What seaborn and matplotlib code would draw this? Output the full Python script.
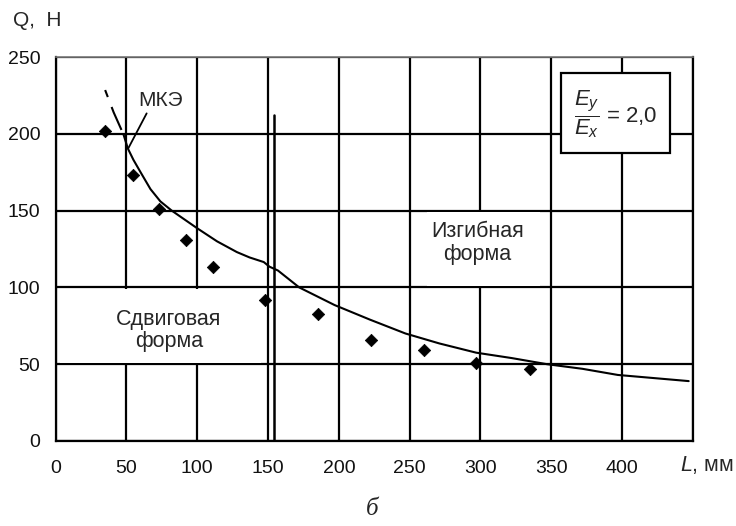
import matplotlib
matplotlib.use("Agg")
import matplotlib.pyplot as plt
from matplotlib.patches import Rectangle
import seaborn as sns

# experimental points
exp_L = [35, 55, 73, 92, 111, 148, 185, 223, 260, 297, 335]
exp_Q = [202, 173, 151, 131, 113, 92, 83, 66, 59, 51, 47]

# FEM curve (МКЭ): dashed start, then solid
fem_dash_L = [35, 41, 48]
fem_dash_Q = [228.5, 214, 199.5]
fem_L = [48, 51, 55, 60, 67, 74, 82, 100, 114, 128, 137, 147, 151, 157, 172, 197,
         222, 247, 271, 297, 322, 347, 372, 397, 422, 447]
fem_Q = [199.5, 190.5, 183, 175, 164, 156, 150, 138.5, 130, 123, 119.5, 116.5, 113.5, 111,
         100, 88.5, 79, 70, 63.5, 57.5, 54, 50, 47, 43, 41, 39]

# boundary between shear and bending forms
bound_L = [154, 154]
bound_Q = [0, 212]

x_ticks = [0, 50, 100, 150, 200, 250, 300, 350, 400]
y_ticks = [0, 50, 100, 150, 200, 250]

sns.set_theme(style="white")
plt.rcParams['font.family'] = ['Liberation Sans', 'DejaVu Sans']
plt.rcParams['mathtext.fontset'] = 'custom'
plt.rcParams['mathtext.rm'] = 'Liberation Sans'
plt.rcParams['mathtext.it'] = 'Liberation Sans:italic'

fig = plt.figure(figsize=(7.36, 5.26), dpi=100)
ax = fig.add_axes([0.0755, 0.1616, 0.866, 0.73])

ax.set_xlim(0, 450)
ax.set_ylim(0, 250)
ax.set_xticks(x_ticks + [450])
ax.set_yticks(y_ticks)
ax.set_xticklabels([str(v) for v in x_ticks] + [""])
ax.set_yticklabels([str(v) for v in y_ticks])
ax.grid(True, color="black", linewidth=1.6)
ax.set_axisbelow(True)
for s in ax.spines.values():
    s.set_color("black")
    s.set_linewidth(1.6)
ax.spines["top"].set_color("#777777")
ax.spines["top"].set_linewidth(1.2)
ax.tick_params(axis="both", direction="out", length=4, width=1.4, color="black",
               labelsize=14, labelcolor="#111111")
ax.tick_params(axis="x", pad=10)
ax.tick_params(axis="y", pad=7)

# white patches under the annotation texts
ax.add_patch(Rectangle((3, 51), 142, 48, facecolor="white", edgecolor="none", zorder=1.5))
ax.add_patch(Rectangle((262, 101), 80, 48, facecolor="white", edgecolor="none", zorder=1.5))

sns.lineplot(x=fem_dash_L, y=fem_dash_Q, ax=ax, color="black", linewidth=1.5,
             linestyle=(0, (3.6, 5.1, 12, 2)), estimator=None, sort=False, zorder=3)
sns.lineplot(x=fem_L, y=fem_Q, ax=ax, color="black", linewidth=1.5,
             estimator=None, sort=False, zorder=3)
sns.lineplot(x=bound_L, y=bound_Q, ax=ax, color="black", linewidth=1.8,
             estimator=None, sort=False, zorder=3)
sns.scatterplot(x=exp_L, y=exp_Q, ax=ax, marker="D", s=40, color="black",
                edgecolor="black", zorder=4)
ax.set_xlabel("")
ax.set_ylabel("")

ax.text(74, 222, "МКЭ", fontsize=15, ha="center", va="center", zorder=5)
ax.plot([64.3, 51.3], [213.3, 190.5], color="black", linewidth=1.3, zorder=3)

ax.text(80, 72, "Сдвиговая\nформа", fontsize=15.5, ha="center", va="center",
        linespacing=1.1, zorder=5)
ax.text(298, 129, "Изгибная\nформа", fontsize=15.5, ha="center", va="center",
        linespacing=1.1, zorder=5)

# ratio box
ax.add_patch(Rectangle((357, 187.7), 77, 52.1, facecolor="white", edgecolor="black",
                       linewidth=1.6, zorder=4))
ax.text(395.5, 213, r"$\dfrac{E_y}{E_x}$ = 2,0", fontsize=16, ha="center", va="center",
        zorder=5)

fig.text(13 / 736, 1 - 20 / 526, "Q,  Н", fontsize=15, ha="left", va="center")
fig.text(734 / 736, 1 - 465 / 526, "$L$, мм", fontsize=15.5, ha="right", va="center")
fig.text(372 / 736, 1 - 509 / 526, "б", fontsize=18, ha="center", va="center",
         family=["Liberation Serif", "DejaVu Serif"], style="italic")

fig.savefig("out.png", dpi=100, facecolor="white")
